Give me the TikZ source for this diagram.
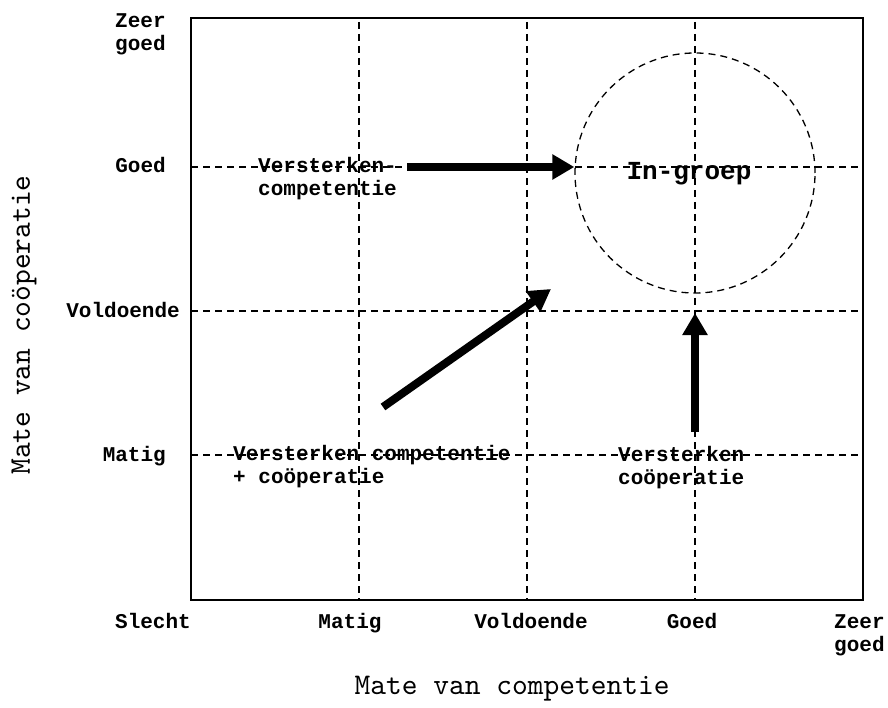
\documentclass[tikz,border=0pt]{standalone}
\usepackage{fontspec}
\setmonofont{Liberation Mono}
\newfontfamily\titelfont{lmmono10-regular.otf}
\usepackage{tikz}
\usetikzlibrary{arrows.meta,positioning}
\tikzset{
  niveau/.style  = {font=\ttfamily\bfseries\fontsize{21}{23}\selectfont, inner sep=0pt},
  advies/.style  = {niveau, align=left, anchor=base west},
  astitel/.style = {font=\titelfont\fontsize{30}{30}\selectfont, inner sep=0pt},
  raster/.style  = {dash pattern=on 7pt off 5pt, line width=1.3pt},
  kader/.style   = {line width=2pt},
  pijl/.style    = {-{Triangle[length=22pt,width=24pt]}, line width=8pt},
}

\begin{document}
\begin{tikzpicture}[x=1pt,y=-1pt]
  \useasboundingbox (0,0) rectangle (888,708);
  % raster en kader
  \foreach \x in {359,527,695} \draw[raster] (\x,22) -- (\x,600);
  \foreach \y in {167,311,455} \draw[raster] (191,\y) -- (863,\y);
  \draw[kader] (191,18) rectangle (863,600);

  % niveaus cooperatie
  \node[niveau, anchor=base west, align=left] (yzeer) at (115,51) {Zeer\\goed};
  \node[niveau, anchor=base east] (ygoed) at (166,173) {Goed};
  \node[niveau, anchor=base east] (yvold) at (180,317) {Voldoende};
  \node[niveau, anchor=base east] (ymatig) at (166,461) {Matig};

  % niveaus competentie
  \node[niveau, anchor=base] (xslecht) at (153,628) {Slecht};
  \node[niveau, anchor=base] (xmatig) at (350,628) {Matig};
  \node[niveau, anchor=base] (xvold) at (531,628) {Voldoende};
  \node[niveau, anchor=base] (xgoed) at (692,628) {Goed};
  \node[niveau, anchor=base west, align=left] (xzeer) at (834,651) {Zeer\\goed};

  \node[astitel, anchor=base] (xtitel) at (512,694) {Mate van competentie};
  \node[astitel, rotate=90] (ytitel) at (24,325) {Mate van coöperatie};

  % in-groep
  \node[circle, draw, raster, minimum size=240pt, inner sep=0pt] (ingroep) at (695,173) {};
  \node[niveau, font=\ttfamily\bfseries\fontsize{26}{28}\selectfont, anchor=base] (ingroeptekst) at (689,180) {In-groep};

  % adviezen
  \node[advies] (vcomp) at (258,196) {Versterken-\\competentie};
  \node[advies] (vbeide) at (233,483) {Versterken competentie\\+ coöperatie};
  \node[advies] (vcoop) at (618,484) {Versterken\\coöperatie};

  \coordinate (p1start) at (407,167);
  \coordinate (p2start) at (383,407);
  \coordinate (p2eind) at (551,289);
  \coordinate (p3start) at (695,432);
  \coordinate (p3eind) at (695,313);
  \draw[pijl] (p1start) -- (ingroep.west |- p1start);
  \draw[pijl] (p2start) -- (p2eind);
  \draw[pijl] (p3start) -- (p3eind);
\end{tikzpicture}
\end{document}
